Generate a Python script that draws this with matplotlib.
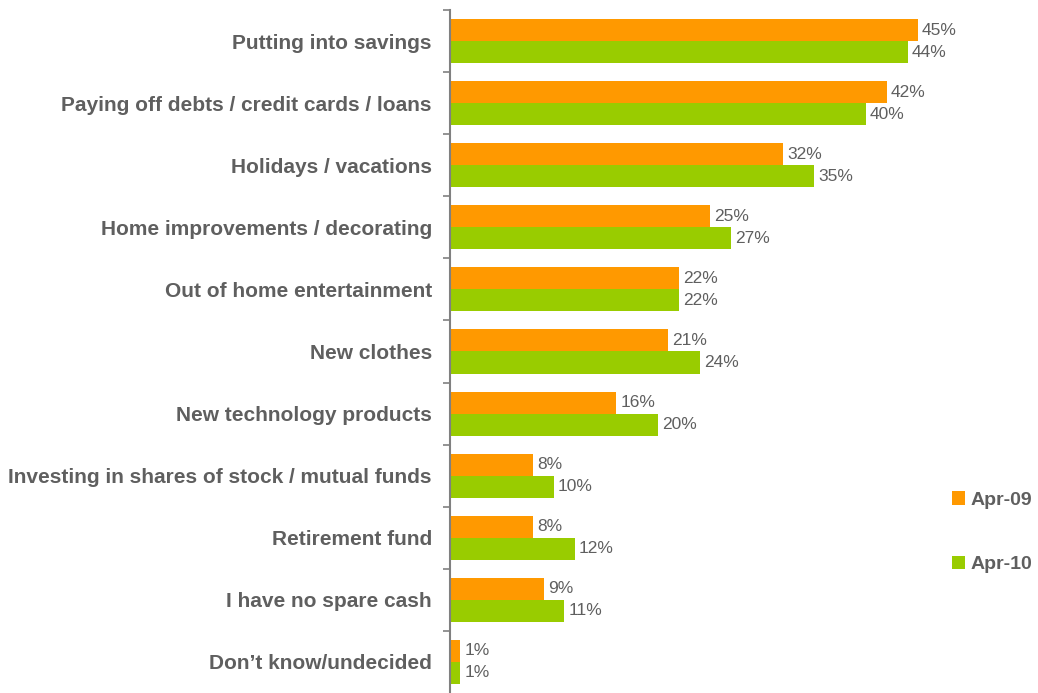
import numpy as np
import matplotlib.pyplot as plt
from matplotlib.ticker import FixedLocator

categories = ["Putting into savings",
              "Paying off debts / credit cards / loans",
              "Holidays / vacations",
              "Home improvements / decorating",
              "Out of home entertainment",
              "New clothes",
              "New technology products",
              "Investing in shares of stock / mutual funds",
              "Retirement fund",
              "I have no spare cash",
              "Don\u2019t know/undecided"]
apr09 = [45, 42, 32, 25, 22, 21, 16, 8, 8, 9, 1]
apr10 = [44, 40, 35, 27, 22, 24, 20, 10, 12, 11, 1]
series_names = ["Apr-09", "Apr-10"]

plt.rcParams['font.family'] = ['Liberation Sans', 'DejaVu Sans']
grey = "#5f5f5f"
orange = "#FF9900"
green = "#99CC00"

fig = plt.figure(figsize=(10.38, 6.93), dpi=100)
ax = fig.add_axes([0.4335, 0.0, 0.551, 0.9856])

n = len(categories)
y = np.arange(n)
h = 0.355
b1 = ax.barh(y - h / 2, apr09, height=h, color=orange, label=series_names[0])
b2 = ax.barh(y + h / 2, apr10, height=h, color=green, label=series_names[1])

for bars, vals in ((b1, apr09), (b2, apr10)):
    for bar, v in zip(bars, vals):
        ax.text(bar.get_width() + 0.4, bar.get_y() + bar.get_height() / 2,
                f"{v}%", va="center", ha="left", fontsize=12.5, color=grey)

ax.set_ylim(n - 0.5, -0.5)
ax.set_xlim(0, 55)
ax.set_yticks(y)
ax.set_yticklabels(categories, fontsize=15, fontweight="bold", color=grey)
ax.tick_params(axis="y", which="major", length=0, pad=13)
ax.yaxis.set_minor_locator(FixedLocator(np.arange(-0.5, n - 0.5, 1)))
ax.tick_params(axis="y", which="minor", length=5, width=1.2, color="#808080")
ax.set_xticks([])

for s in ["top", "right", "bottom"]:
    ax.spines[s].set_visible(False)
ax.spines["left"].set_color("#808080")
ax.spines["left"].set_linewidth(1.5)

leg = fig.legend(handles=[b1, b2], loc="center left", bbox_to_anchor=(0.9, 0.232),
                 frameon=False, handlelength=0.7, handleheight=0.7,
                 handletextpad=0.25, labelspacing=2.4,
                 prop={"size": 14, "weight": "bold"})
for t in leg.get_texts():
    t.set_color(grey)

fig.savefig("out.png", dpi=100)
